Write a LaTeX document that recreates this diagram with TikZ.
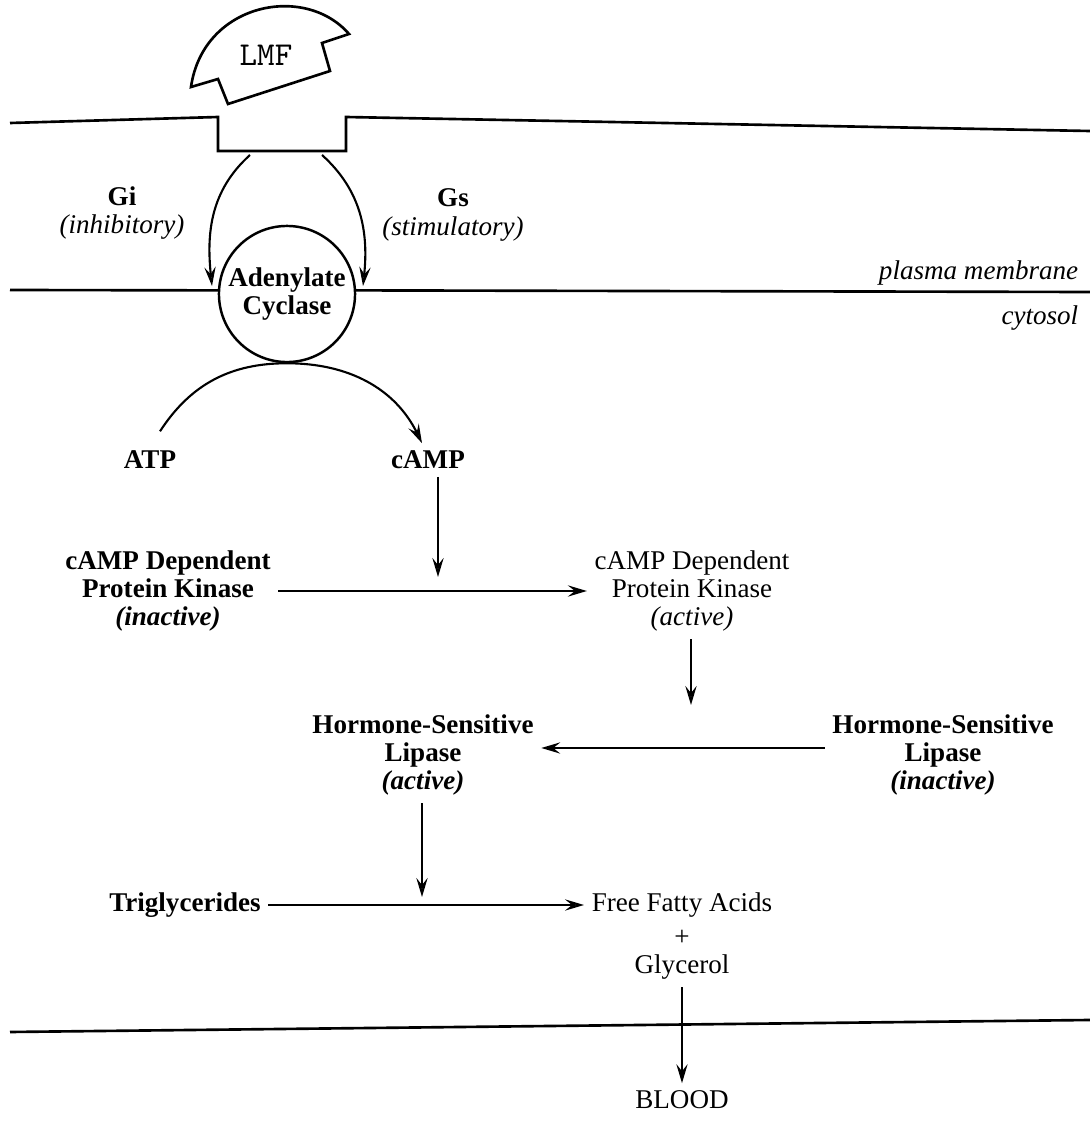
\documentclass[tikz,border=0pt]{standalone}
\usepackage{fontspec}
\setmainfont{Liberation Serif}
\usetikzlibrary{arrows.meta}
\tikzset{>={Stealth[length=5.4pt,width=3.2pt,inset=2pt,fill=gray!55]}}

\begin{document}
\begin{tikzpicture}[x=0.01cm, y=0.01cm]
	\tikzstyle{txt_b} = [font=\fontsize{7.7}{8}\selectfont\bfseries, align=center, inner sep=2pt]
	\tikzstyle{txt_r} = [font=\fontsize{7.7}{8}\selectfont, align=center, inner sep=2pt]
	\tikzstyle{txt_i} = [font=\fontsize{7.7}{8}\selectfont\itshape, inner sep=2pt]
	\tikzstyle{enzyme} = [circle, draw=black, line width=0.7pt, minimum size=1.36cm, inner sep=0pt, align=center, font=\fontsize{7.7}{8}\selectfont\bfseries]
	\tikzstyle{membrane} = [line width=0.75pt]
	\tikzstyle{flow} = [->, line width=0.6pt]

	\useasboundingbox (0,0) rectangle (1090,1123);

%----------LMF and receptor-----------------------------------
	\draw[membrane] (191,1036) .. controls (203,1120) and (305,1140) .. (349,1089)
		-- (322,1080) -- (330,1052) -- (228,1019) -- (218,1044) -- cycle;
	\node[font=\ttfamily\fontsize{9.5}{10}\selectfont] (lmf) at (266,1068) {LMF};

	\draw[membrane] (10,1000) -- (218,1006) -- (218,972) -- (346,972) -- (346,1006) -- (1090,992);

%----------G proteins and adenylate cyclase-------------------
	\node[enzyme] (ac) at (287,829) {Adenylate\\Cyclase};

	\coordinate (gi_start) at (250,968);
	\coordinate (gi_end) at (212,837);
	\coordinate (gs_start) at (322,968);
	\coordinate (gs_end) at (363,837);

	\node[txt_b] (gi) at (122,910) {Gi\\{\mdseries\itshape (inhibitory)}};
	\node[txt_b] (gs) at (453,908) {Gs\\{\mdseries\itshape (stimulatory)}};

	\draw[flow] (gi_start) to[out=222, in=96] (gi_end);
	\draw[flow] (gs_start) to[out=-42, in=84] (gs_end);

	\draw[membrane] (10,833) -- (ac.177);
	\draw[membrane] (ac.3) -- (1090,831);

	\node[txt_i, anchor=east] (pm) at (1086,850) {plasma membrane};
	\node[txt_i, anchor=east] (cyt) at (1086,805) {cytosol};

%----------ATP -> cAMP----------------------------------------
	\node[txt_b] (atp) at (150,663) {ATP};
	\node[txt_b] (camp) at (428,663) {cAMP};

	\draw[flow] ([shift={(10,12)}]atp.north) to[out=57, in=180] (ac.south)
		to[out=0, in=116] ([xshift=-0.06cm]camp.north);

%----------protein kinase-------------------------------------
	\node[txt_b] (pk0) at (168,532) {cAMP Dependent\\Protein Kinase\\\textit{(inactive)}};
	\node[txt_r] (pk1) at (692,532) {cAMP Dependent\\Protein Kinase\\\textit{(active)}};

	\draw[flow] (pk0) -- (pk1);

	\coordinate (pk_act) at (438,546);
	\draw[flow] (camp.south -| pk_act) -- (pk_act);

%----------hormone-sensitive lipase---------------------------
	\node[txt_b] (hsl1) at (423,368) {Hormone-Sensitive\\Lipase\\\textit{(active)}};
	\node[txt_b] (hsl0) at (943,368) {Hormone-Sensitive\\Lipase\\\textit{(inactive)}};

	\coordinate (hsl_act) at (691,418);
	\draw[flow] (pk1.south -| hsl_act) -- (hsl_act);

	\draw[flow] ([yshift=0.07cm]hsl0.west) -- ([yshift=0.07cm]hsl1.east);

%----------lipolysis------------------------------------------
	\node[txt_b] (tg) at (185,218) {Triglycerides};
	\node[txt_r] (ffa) at (682,218) {Free Fatty Acids};
	\node[txt_r] (plus) at (682,185) {+};
	\node[txt_r] (gly) at (682,156) {Glycerol};

	\draw[flow] (tg) -- (ffa);

	\coordinate (tg_act) at (422,226);
	\draw[flow] (hsl1.south -| tg_act) -- (tg_act);

%----------blood----------------------------------------------
	\draw[membrane] (10,91) -- (1090,103);
	\node[txt_r] (blood) at (682,23) {BLOOD};

	\draw[flow] (gly.south) -- (blood.north);

\end{tikzpicture}
\end{document}
